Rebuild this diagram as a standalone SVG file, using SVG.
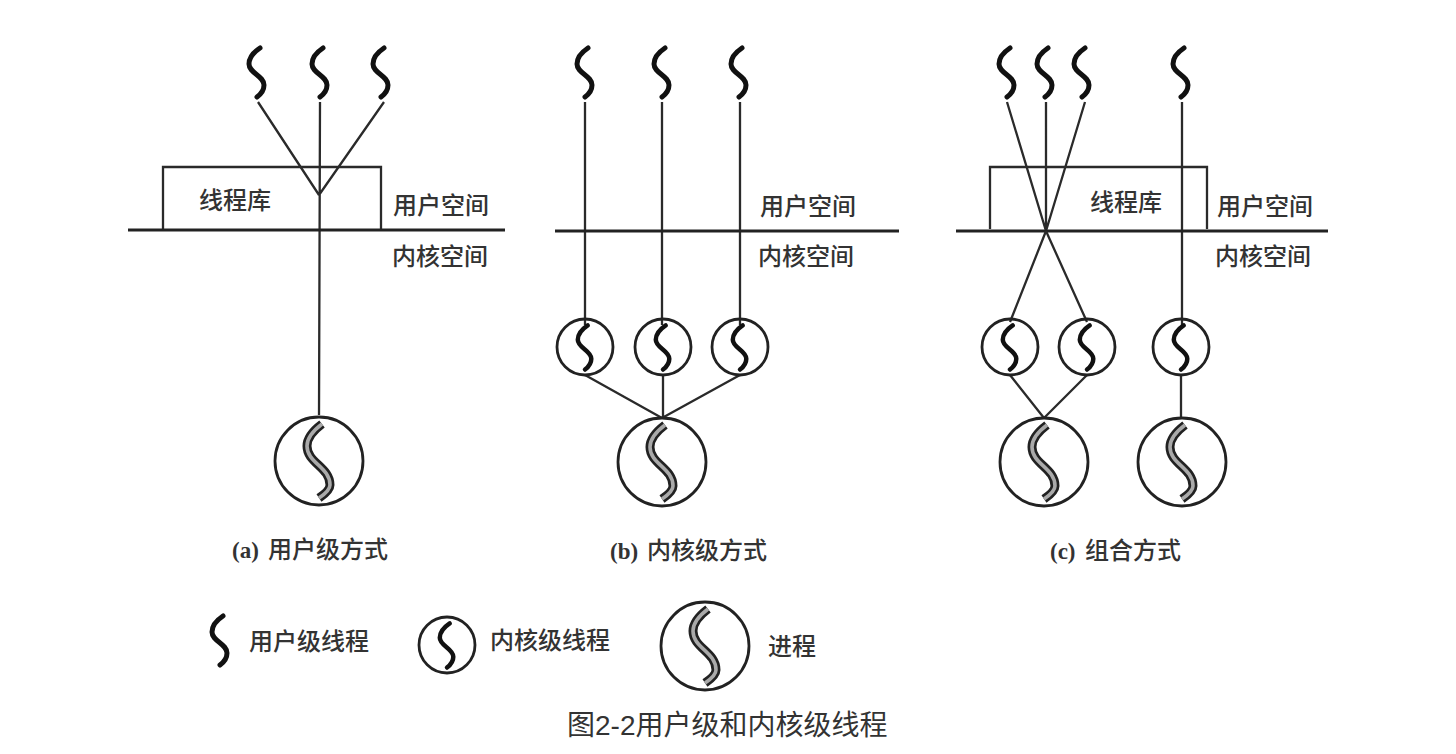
<svg xmlns="http://www.w3.org/2000/svg" width="1456" height="754" viewBox="0 0 1456 754">
<style>
.ln{fill:none;stroke:#2a2a2a;stroke-width:2.3}
.hz{fill:none;stroke:#222;stroke-width:3}
.cir{fill:none;stroke:#222;stroke-width:2.8}
.th{fill:none;stroke:#111;stroke-width:5;stroke-linecap:round}
.po{fill:none;stroke:#222;stroke-width:9}
.pi{fill:none;stroke:#aaa;stroke-width:3.6}
text{font-family:"Liberation Sans","Noto Sans CJK SC",sans-serif;font-size:24px;font-weight:500;fill:#333}
.ltn{font-family:"Liberation Serif","Noto Sans CJK SC",serif;font-size:23px;font-weight:bold}
.cap{font-size:28px;font-weight:400;fill:#333}
</style>
<defs>
<path id="sq" d="M3,-24 C-3,-20 -8,-14 -8,-8 C-8,1 7,4 7,13 C7,18 4,22 0,25"/>
<g id="user"><use href="#sq" class="th"/></g>
<g id="kern"><circle r="28" class="cir"/><use href="#sq" class="th" transform="scale(.9)"/></g>
<g id="proc"><circle r="44" class="cir"/>
<path class="po" d="M3,-37 C-5,-31 -12,-24 -12,-15 C-12,2 11,6 11,24 C11,29 6,33 0,37"/>
<path class="pi" d="M3,-37 C-5,-31 -12,-24 -12,-15 C-12,2 11,6 11,24 C11,29 6,33 0,37"/></g>
</defs>
<g id="connectors">
<path class="ln" d="M258,102L319,195M320,102L319,415M384,102L319,195"/>
<path class="ln" d="M163,229V167H381V229"/>
<path class="hz" d="M128,230H505"/>
<path class="ln" d="M585,102V325M662,102V325M740,102V325"/>
<path class="hz" d="M555,231H899"/>
<path class="ln" d="M585,375L662,418M663,375V418M740,375L662,418"/>
<path class="ln" d="M1007,102L1046,231M1046,102V231M1085,102L1046,231M1182,102V325"/>
<path class="ln" d="M990,229V167H1207V229"/>
<path class="hz" d="M956,231H1328"/>
<path class="ln" d="M1046,231L1010,322M1046,231L1087,322"/>
<path class="ln" d="M1010,375L1044,418M1087,375L1044,418M1181,375V418"/>
</g>
<g id="a-threads"><use href="#user" x="257" y="72"/><use href="#user" x="320" y="72"/><use href="#user" x="381" y="72"/></g>
<g id="a-process"><use href="#proc" x="319" y="461"/></g>
<g id="a-labels"><text x="199" y="209">线程库</text><text x="393" y="214">用户空间</text><text x="392" y="265">内核空间</text>
<text x="232" y="558"><tspan class="ltn">(a)</tspan><tspan x="268">用户级方式</tspan></text></g>
<g id="b-threads"><use href="#user" x="585" y="72"/><use href="#user" x="662" y="72"/><use href="#user" x="739" y="72"/></g>
<g id="b-kernel"><use href="#kern" x="585" y="347"/><use href="#kern" x="663" y="347"/><use href="#kern" x="740" y="347"/></g>
<g id="b-process"><use href="#proc" x="662" y="462"/></g>
<g id="b-labels"><text x="760" y="215">用户空间</text><text x="758" y="265">内核空间</text>
<text x="610" y="559"><tspan class="ltn">(b)</tspan><tspan x="647">内核级方式</tspan></text></g>
<g id="c-threads"><use href="#user" x="1007" y="72"/><use href="#user" x="1045" y="72"/><use href="#user" x="1082" y="72"/><use href="#user" x="1181" y="72"/></g>
<g id="c-kernel"><use href="#kern" x="1010" y="347"/><use href="#kern" x="1087" y="347"/><use href="#kern" x="1181" y="347"/></g>
<g id="c-process"><use href="#proc" x="1044" y="462"/><use href="#proc" x="1182" y="462"/></g>
<g id="c-labels"><text x="1090" y="211">线程库</text><text x="1217" y="215">用户空间</text><text x="1215" y="265">内核空间</text>
<text x="1050" y="559"><tspan class="ltn">(c)</tspan><tspan x="1085">组合方式</tspan></text></g>
<g id="legend-user"><use href="#user" x="220" y="640"/><text x="249" y="650">用户级线程</text></g>
<g id="legend-kernel"><use href="#kern" x="447" y="645"/><text x="490" y="649">内核级线程</text></g>
<g id="legend-process"><use href="#proc" x="705" y="646"/><text x="768" y="655">进程</text></g>
<text id="caption" class="cap" x="567" y="735">图2-2用户级和内核级线程</text>
</svg>
